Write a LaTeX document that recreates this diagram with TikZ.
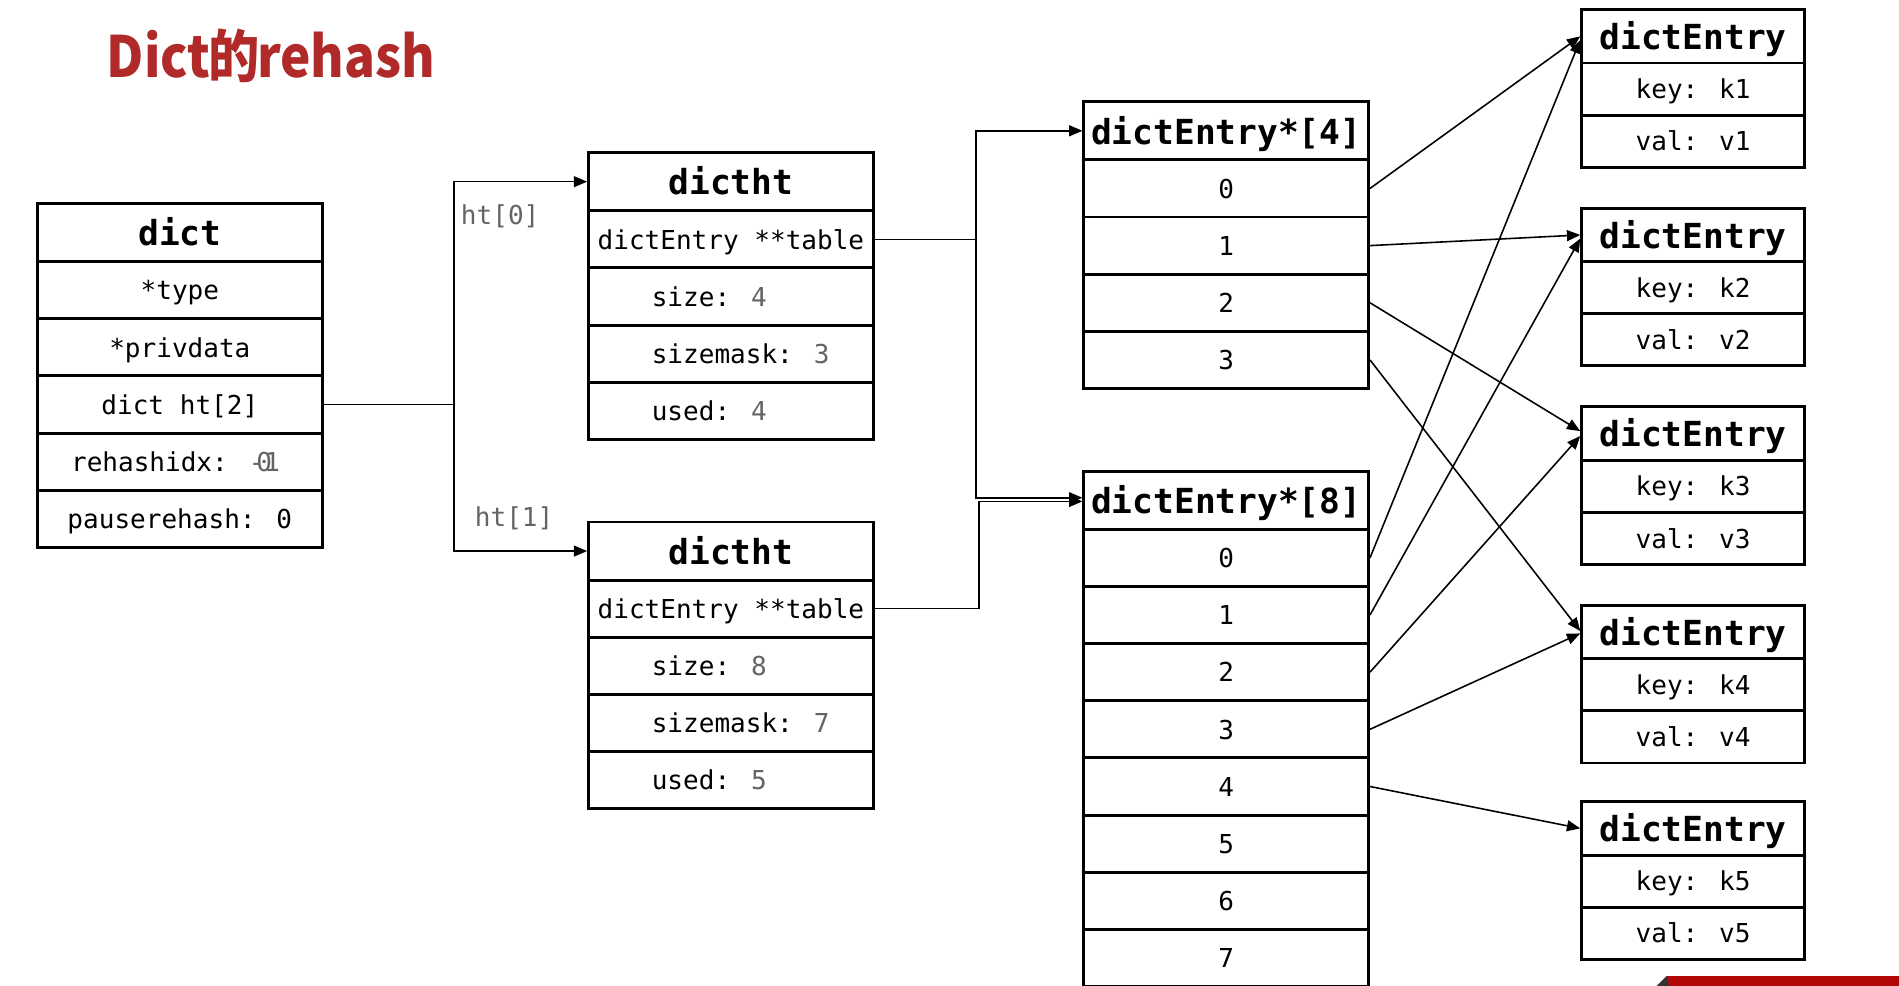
\documentclass[tikz,border=0pt]{standalone}
\usepackage{fontspec}
\usepackage{graphicx}
\usetikzlibrary{arrows.meta,calc}
\newfontfamily\monof{DejaVu Sans Mono}
\newfontfamily\titlef{Noto Sans CJK SC}
\definecolor{titlered}{RGB}{176,42,42}
\definecolor{numgray}{RGB}{100,100,100}
\definecolor{barred}{RGB}{180,8,8}
\newcommand\bodyf{\monof\fontsize{21.5}{24}\selectfont}
\newcommand\hdrf{\monof\bfseries\fontsize{28.5}{32}\selectfont}
\newcommand\gnum[1]{\textcolor{numgray}{#1}}
\tikzset{
  cell/.style={draw, line width=2.4pt, inner sep=0pt, text height=16pt, text depth=0pt, font=\bodyf},
  hdr/.style={cell, text height=22pt, font=\hdrf},
  wide/.style={minimum width=235pt},
  narrow/.style={minimum width=184pt},
  rowh/.style={minimum height=47.2pt},
  hdrh/.style={minimum height=48pt},
  erow/.style={minimum height=43pt},
  ehdr/.style={minimum height=44pt},
  conn/.style={line width=1.3pt},
  arr/.style={conn, -{Triangle[length=11pt,width=9pt]}},
  lbl/.style={inner sep=0pt, text height=16pt, text depth=0pt, font=\bodyf},
}
\begin{document}
\begin{tikzpicture}[x=1pt,y=-1pt]
\useasboundingbox (0,0) rectangle (1568,814);
\clip (0,0) rectangle (1568,814);
\fill[white] (0,0) rectangle (1568,814);

% title
\node[anchor=base west, inner sep=0pt, text=titlered, font=\titlef\bfseries\fontsize{47}{50}\selectfont] (title) at (88,64) {\scalebox{0.9}[1]{Dict\hspace{-2pt}的\hspace{-2pt}rehash}};

% dict
\node[hdr, wide, hdrh] (d0) at (148.5,192) {dict};
\node[cell, wide, rowh] (d1) at (148.5,239.6) {*type};
\node[cell, wide, rowh] (d2) at (148.5,286.8) {*privdata};
\node[cell, wide, rowh] (d3) at (148.5,334) {dict ht[2]};
\node[cell, wide, rowh] (d4) at (148.5,381.2) {};
\node[lbl, anchor=west] (d4t) at (58.5,381.2) {rehashidx: \gnum{-1}\hspace{-19.5pt}\gnum{0}};
\node[cell, wide, rowh] (d5) at (148.5,428.4) {pauserehash: 0};

% dictht A
\node[hdr, wide, hdrh] (A0) at (603.5,150) {dictht};
\node[cell, wide, rowh] (A1) at (603.5,197.6) {dictEntry **table};
\node[cell, wide, rowh] (A2) at (603.5,244.8) {};
\node[cell, wide, rowh] (A3) at (603.5,292) {};
\node[cell, wide, rowh] (A4) at (603.5,339.2) {};
\node[lbl, anchor=west] (A2t) at (538,244.8) {size: \gnum{4}};
\node[lbl, anchor=west] (A3t) at (538,292) {sizemask: \gnum{3}};
\node[lbl, anchor=west] (A4t) at (538,339.2) {used:  \gnum{4}};

% dictht B
\node[hdr, wide, hdrh] (B0) at (603.5,455) {dictht};
\node[cell, wide, rowh] (B1) at (603.5,502.6) {dictEntry **table};
\node[cell, wide, rowh] (B2) at (603.5,549.8) {};
\node[cell, wide, rowh] (B3) at (603.5,597) {};
\node[cell, wide, rowh] (B4) at (603.5,644.2) {};
\node[lbl, anchor=west] (B2t) at (538,549.8) {size: \gnum{8}};
\node[lbl, anchor=west] (B3t) at (538,597) {sizemask: \gnum{7}};
\node[lbl, anchor=west] (B4t) at (538,644.2) {used:  \gnum{5}};

% dictEntry*[4]
\node[hdr, wide, hdrh] (a4h) at (1012.5,108) {dictEntry*[4]};
\foreach \i in {0,...,3}
  \node[cell, wide, rowh] (a4-\i) at (1012.5,{155.6+47.2*\i}) {\i};

% dictEntry*[8]
\node[hdr, wide, hdrh] (a8h) at (1012.5,413) {dictEntry*[8]};
\foreach \i in {0,...,7}
  \node[cell, wide, rowh] (a8-\i) at (1012.5,{460.6+47.2*\i}) {\i};

% dictEntry boxes
\foreach \n/\t in {1/8,2/172,3/336,4/500,5/662}{
  \node[hdr, narrow, ehdr] (e\n h) at (1398,{\t+22}) {dictEntry};
  \node[cell, narrow, erow] (e\n k) at (1398,{\t+65.5}) {key: k\n};
  \node[cell, narrow, erow] (e\n v) at (1398,{\t+108.5}) {val: v\n};
}

% dict -> dictht
\coordinate (j1) at (375,334);
\draw[conn] (d3.east) -- (j1);
\draw[arr] (j1) |- (A0.west);
\draw[arr] (j1) |- (B0.west);
\node[lbl, text=numgray] (l0) at (413,177) {ht[0]};
\node[lbl, text=numgray] (l1) at (424.5,427) {ht[1]};

% table -> arrays
\coordinate (j2) at (806,197.6);
\coordinate (j3) at (808.5,502.6);
\draw[arr] (A1.east) -- (j2) |- (a4h.west);
\draw[arr] (A1.east) -- (j2) |- ([yshift=2pt]a8h.west);
\draw[arr] (B1.east) -- (j3) |- ([yshift=-1pt]a8h.west);

% buckets -> entries
\draw[arr] (a4-0.east) -- ([yshift=0pt]e1h.west);
\draw[arr] (a8-0.east) -- ([yshift=-3pt]e1h.west);
\draw[arr] (a4-1.east) -- ([yshift=0pt]e2h.west);
\draw[arr] (a8-1.east) -- ([yshift=-3pt]e2h.west);
\draw[arr] (a4-2.east) -- ([yshift=2pt]e3h.west);
\draw[arr] (a8-2.east) -- ([yshift=-2pt]e3h.west);
\draw[arr] (a4-3.east) -- ([yshift=1pt]e4h.west);
\draw[arr] (a8-3.east) -- ([yshift=-1pt]e4h.west);
\draw[arr] (a8-4.east) -- (e5h.west);

% red bar at bottom right
\fill[barred] (1376,806) -- (1568,806) -- (1568,814) -- (1372,814) -- cycle;
\fill[black!80] (1368,814) -- (1376,806) -- (1378,814) -- cycle;
\end{tikzpicture}
\end{document}
